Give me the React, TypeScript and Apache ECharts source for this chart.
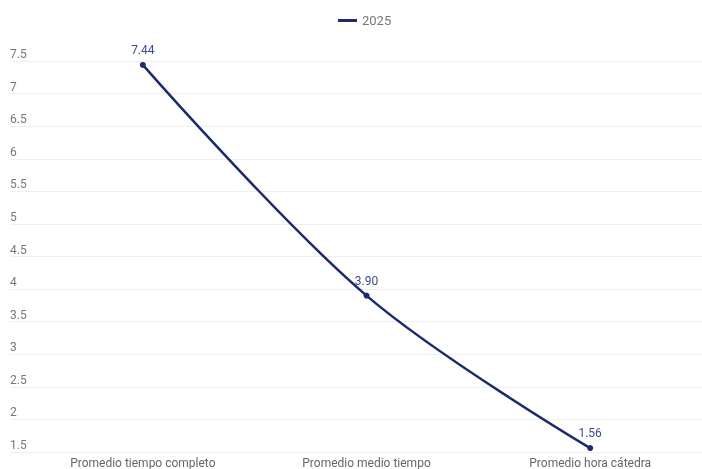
import React, { useEffect, useRef } from "react";
import * as echarts from "echarts";

const categories = ["Promedio tiempo completo", "Promedio medio tiempo", "Promedio hora cátedra"];
const values2025 = [7.44, 3.9, 1.56];
const seriesName = "2025";
const yMin = 1.5;
const yMax = 7.5;
const yStep = 0.5;

export default function App() {
  const ref = useRef<HTMLDivElement>(null);
  useEffect(() => {
    document.body.style.margin = "0";
    const chart = echarts.init(ref.current!, null, { renderer: "svg" });
    const font = "Roboto, 'Noto Sans', sans-serif";
    chart.setOption({
      animation: false,
      textStyle: { fontFamily: font },
      legend: {
        top: 9,
        left: 333,
        data: [{ name: seriesName, icon: "rect" }],
        itemWidth: 19,
        itemHeight: 3,
        itemGap: 8,
        textStyle: { color: "#777", fontSize: 13, fontFamily: font },
      },
      grid: [
        { left: 10, right: 0, top: 61, bottom: 17, containLabel: false },
        { left: 31, right: 0, top: 61, bottom: 17, containLabel: false },
      ],
      xAxis: [
        { gridIndex: 0, type: "value", show: false, min: 0, max: 1 },
        {
          gridIndex: 1,
          type: "category",
          data: categories,
          boundaryGap: true,
          axisLine: { show: false },
          axisTick: { show: false },
          axisLabel: { color: "#666", fontSize: 12, margin: 5, fontFamily: font },
        },
      ],
      yAxis: [
        {
          gridIndex: 0,
          type: "value",
          min: yMin,
          max: yMax,
          interval: yStep,
          axisLine: { show: false },
          axisTick: { show: false },
          splitLine: { lineStyle: { color: "#efefef", width: 1 } },
          axisLabel: {
            inside: true,
            margin: 0,
            verticalAlign: "bottom",
            color: "#777",
            fontSize: 12,
            fontFamily: font,
            padding: [0, 0, 1, 0],
          },
        },
        {
          gridIndex: 1,
          type: "value",
          min: yMin,
          max: yMax,
          interval: yStep,
          show: false,
          splitLine: { show: false },
        },
      ],
      series: [
        {
          name: seriesName,
          type: "line",
          xAxisIndex: 1,
          yAxisIndex: 1,
          data: values2025,
          smooth: 0.35,
          symbol: "circle",
          symbolSize: 6,
          showSymbol: true,
          itemStyle: { color: "#1d2a6c" },
          lineStyle: { color: "#1d2a6c", width: 2.5 },
          label: {
            show: true,
            position: "top",
            distance: 6,
            color: "#3b4a8c",
            fontSize: 12,
            fontFamily: font,
            formatter: (p: any) => Number(p.value).toFixed(2),
          },
        },
      ],
    });
    return () => chart.dispose();
  }, []);
  return <div ref={ref} style={{ position: "fixed", left: 0, top: 0, width: 702, height: 469 }} />;
}
